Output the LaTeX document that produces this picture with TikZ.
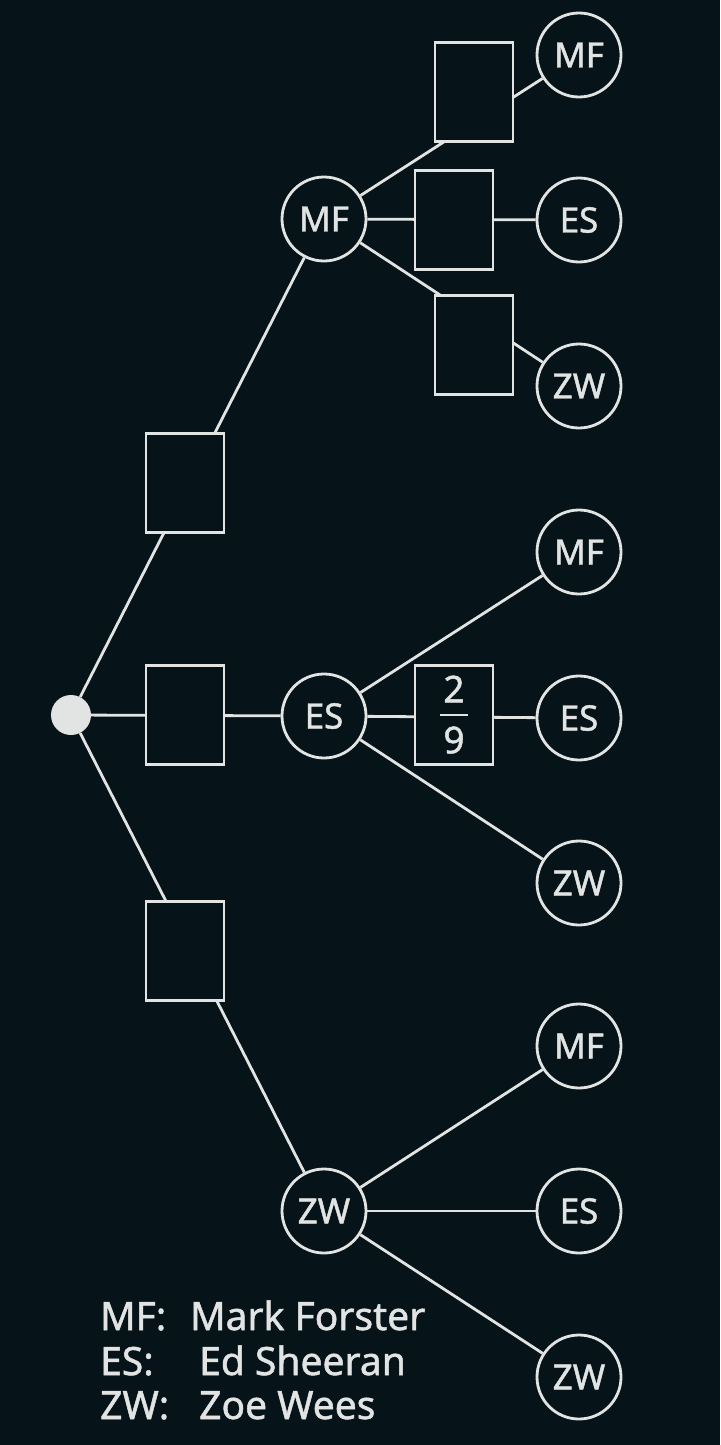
\documentclass[tikz,border=0pt]{standalone}
\usepackage{fontspec}
\setmainfont{Noto Sans}[FakeBold=1.2]
\newfontfamily\medfont{Noto Sans}[FakeBold=1.3]
\definecolor{bg}{HTML}{061419}
\definecolor{fg}{HTML}{E2E4E4}
\begin{document}
\begin{tikzpicture}[x=1pt,y=-1pt,
  bub/.style={circle,draw=fg,line width=2.8pt,fill=bg,minimum size=84pt,inner sep=0pt,text=fg,font=\medfont\fontsize{35}{35}\selectfont},
  blank/.style={rectangle,draw=fg,line width=2.8pt,fill=bg,minimum width=78pt,minimum height=99pt,inner sep=0pt},
  edge/.style={draw=fg,line width=2.8pt},
  frac/.style={text=fg,font=\medfont\fontsize{37}{37}\selectfont,inner sep=0pt},
  lab/.style={anchor=base west,text=fg,font=\medfont\fontsize{39}{39}\selectfont,inner sep=0pt}]
\fill[bg] (0,0) rectangle (720,1445);
\useasboundingbox (0,0) rectangle (720,1445);
% root
\node[circle,fill=fg,minimum size=40pt,inner sep=0pt] (root) at (71,715) {};
% level 1
\node[bub] (mf) at (324,219) {MF};
\node[bub] (es) at (324,716) {ES};
\node[bub] (zw) at (324,1211) {ZW};
% leaves
\node[bub] (l1) at (579,55) {MF};
\node[bub] (l2) at (579,220) {ES};
\node[bub] (l3) at (579,386) {ZW};
\node[bub] (l4) at (579,552) {MF};
\node[bub] (l5) at (579,718) {ES};
\node[bub] (l6) at (579,883) {ZW};
\node[bub] (l7) at (579,1046) {MF};
\node[bub] (l8) at (579,1211) {ES};
\node[bub] (l9) at (579,1377) {ZW};
% connectors
\draw[edge] (root) -- (mf);
\draw[edge] (root) -- (es);
\draw[edge] (root) -- (zw);
\draw[edge] (mf) -- (l1);
\draw[edge] (mf) -- (l2);
\draw[edge] (mf) -- (l3);
\draw[edge] (es) -- (l4);
\draw[edge] (es) -- (l5);
\draw[edge] (es) -- (l6);
\draw[edge] (zw) -- (l7);
\draw[edge] (zw) -- (l8);
\draw[edge] (zw) -- (l9);
% boxes
\node[blank] (b1) at (185,483) {};
\node[blank] (b2) at (185,715) {};
\node[blank] (b3) at (185,951) {};
\node[blank] (b4) at (474,92) {};
\node[blank] (b5) at (454,220) {};
\node[blank] (b6) at (474,345) {};
\node[blank] (b7) at (454,715) {};
\node[frac] (num) at (454,689) {2};
\node[frac] (den) at (454,740) {9};
\draw[fg,line width=2.6pt] ([xshift=-14pt]b7.center) coordinate (fbl) -- ([xshift=14pt]b7.center) coordinate (fbr);
% legend
\node[lab] (k1) at (100,1330) {MF:};
\node[lab] (v1) at (190,1330) {Mark Forster};
\node[lab] (k2) at (100,1375) {ES:};
\node[lab] (v2) at (199,1375) {Ed Sheeran};
\node[lab] (k3) at (100,1419) {ZW:};
\node[lab] (v3) at (199,1419) {Zoe Wees};
\end{tikzpicture}
\end{document}
